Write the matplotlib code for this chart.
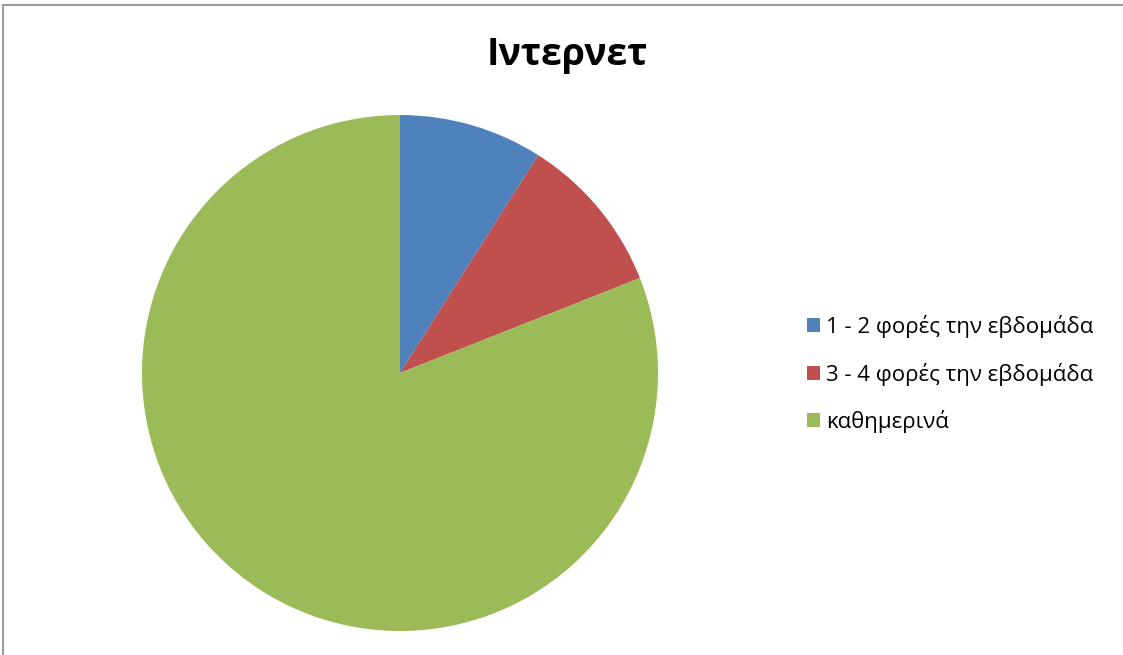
import matplotlib
matplotlib.use("Agg")
import matplotlib.pyplot as plt
from matplotlib.patches import Rectangle

plt.rcParams['font.family'] = ['Open Sans', 'Noto Sans', 'DejaVu Sans']

title = "Ιντερνετ"
categories = ["1 - 2 φορές την εβδομάδα", "3 - 4 φορές την εβδομάδα", "καθημερινά"]
values = [9, 10, 81]
colors = ["#4F81BD", "#C0504D", "#9BBB59"]

W, H = 1123, 655
fig = plt.figure(figsize=(W / 100, H / 100), dpi=100)

# chart-area frame (top and left edges visible)
fig.patches.append(Rectangle((3 / W, -0.1), 1.2, 1 - 5 / H + 0.1,
                             transform=fig.transFigure, fill=False,
                             edgecolor="#868686", linewidth=1.2, zorder=0))

cx, cy, r = 400, 373, 258
ax = fig.add_axes([(cx - r) / W, (H - cy - r) / H, 2 * r / W, 2 * r / H])
wedges, _ = ax.pie(values, colors=colors, startangle=90, counterclock=False,
                   radius=1, wedgeprops=dict(linewidth=0))
ax.set_xlim(-1, 1)
ax.set_ylim(-1, 1)
ax.set_aspect('auto')
ax.axis('off')

fig.text(567 / W, 1 - 55 / H, title, ha='center', va='center',
         fontsize=27, fontweight='bold')

fig.legend(wedges, categories, loc='center left',
           bbox_to_anchor=(796 / W, 1 - 374 / H), frameon=False,
           fontsize=16, handlelength=0.6, handleheight=0.6,
           handletextpad=0.25, labelspacing=1.1, borderpad=0)

fig.savefig("out.png", dpi=100)
